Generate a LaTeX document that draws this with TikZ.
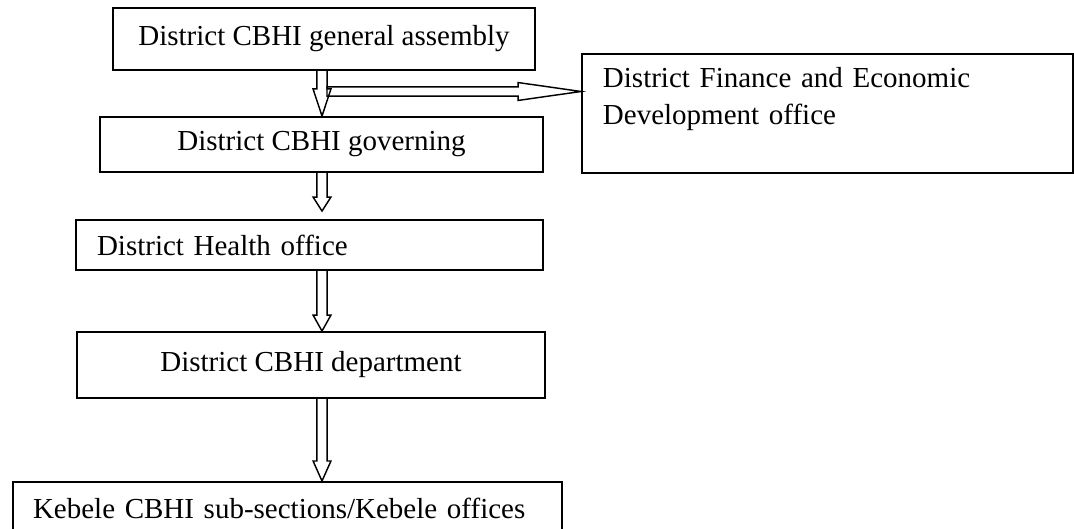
\documentclass[tikz,border=0pt]{standalone}
\usepackage{fontspec}
\setmainfont{Liberation Serif}
\usetikzlibrary{calc}

\newcommand{\pxu}{0.4138pt}

\tikzset{
  box/.style={draw, line width=0.8pt, inner sep=0pt,
    font=\fontsize{12}{15}\selectfont},
  fat/.style={line width=0.6pt, line join=miter},
}

% hollow block arrow going down: [gap]{upper node}{lower node}{head length}
\newcommand{\fatdown}[4][0pt]{%
  \draw[fat] let \p1=(spine |- #2.south), \p2=(spine |- #3.north) in
    (\x1-2.1pt,\y1) -- (\x1-2.1pt,\y2+#1+#4) -- (\x1-3.7pt,\y2+#1+#4)
    -- (\x1,\y2+#1) -- (\x1+3.7pt,\y2+#1+#4) -- (\x1+2.1pt,\y2+#1+#4)
    -- (\x1+2.1pt,\y1);
}

\begin{document}
\begin{tikzpicture}[x=0.4138pt, y=-0.4138pt]
    \useasboundingbox (0,0) rectangle (1074,529);

    % the chain of offices
    \node[box, minimum width=422*\pxu, minimum height=62*\pxu] (assembly) at (324,39)
        {District CBHI general assembly};
    \node[box, minimum width=443*\pxu, minimum height=55*\pxu] (governing) at (321.5,144.5)
        {District CBHI governing};
    \node[box, minimum width=467*\pxu, minimum height=50*\pxu, text width=425*\pxu, align=left]
        (health) at (309.5,245) {District Health office};
    \node[box, minimum width=468*\pxu, minimum height=66*\pxu] (department) at (311,365)
        {District CBHI department};
    \node[box, minimum width=549*\pxu, minimum height=52*\pxu, text width=509*\pxu, align=left]
        (kebele) at (287.5,508) {Kebele CBHI sub-sections/Kebele offices};

    % side office, text at the top of the box
    \node[box, anchor=north west, inner xsep=21*\pxu, text width=449*\pxu, align=left,
        text height=34*\pxu, text depth=85*\pxu] (finance) at (581,53)
        {District Finance and Economic\\Development office};

    % all down arrows share one vertical line
    \coordinate (spine) at (322,0);
    \coordinate (branch) at (327,91.5);

    \fatdown{assembly}{governing}{11.2pt}
    \fatdown[3.3pt]{governing}{health}{5.8pt}
    \fatdown{health}{department}{6.6pt}
    \fatdown{department}{kebele}{8.3pt}

    % branch to the finance office
    \draw[fat] let \p1=(branch), \p2=(branch -| finance.west) in
        (\x1,\y1+1.9pt) -- (\x2-26pt,\y1+1.9pt) -- (\x2-26pt,\y1+3.7pt) -- (\p2)
        -- (\x2-26pt,\y1-3.7pt) -- (\x2-26pt,\y1-1.9pt) -- (\x1,\y1-1.9pt) -- cycle;
\end{tikzpicture}
\end{document}
